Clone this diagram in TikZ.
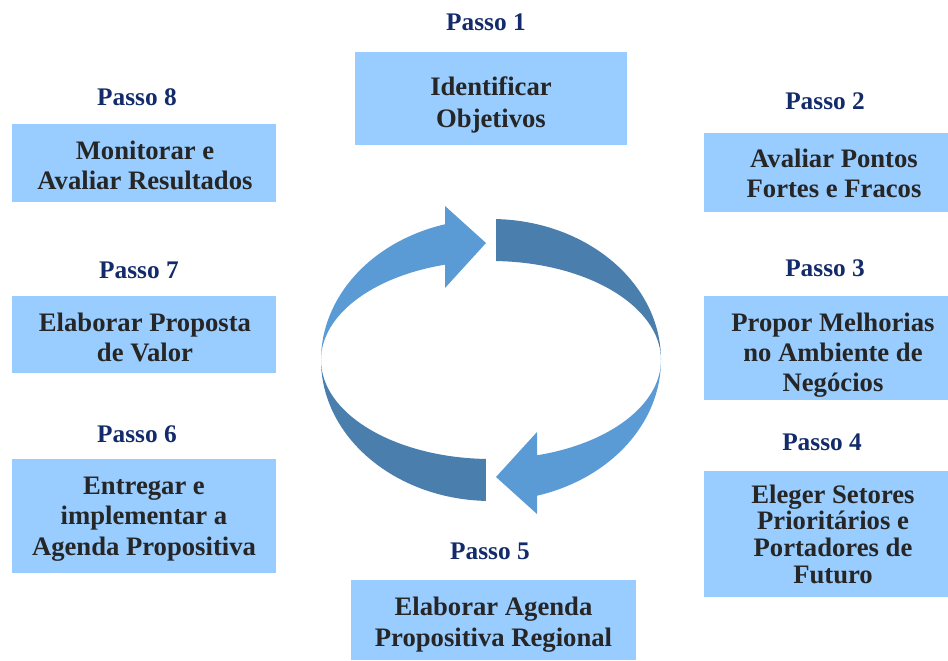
\documentclass[tikz,border=0pt]{standalone}
\usepackage{fontspec}
\setmainfont{Liberation Serif}
\usepackage{tikz}
\usetikzlibrary{positioning}
\definecolor{BoxBlue}{HTML}{99CCFF}
\definecolor{PassoNavy}{HTML}{132B6A}
\definecolor{TextGray}{HTML}{262626}
\definecolor{ArrLight}{HTML}{5B9BD5}
\definecolor{ArrDark}{HTML}{4A7EAC}

\begin{document}
\begin{tikzpicture}[x=.75pt,y=.75pt,
 box/.style 2 args={fill=BoxBlue,inner sep=0pt,minimum width=#1*.75pt,minimum height=#2*.75pt},
 txt/.style={text=TextGray,align=center,inner sep=0pt,font=\bfseries\fontsize{20}{#1}\selectfont},
 txt/.default=23,
 passo/.style={text=PassoNavy,inner sep=0pt,font=\bfseries\fontsize{19}{22}\selectfont}]
\useasboundingbox (0,0) rectangle (948,660);
% ciclo central
\foreach \r in {0,180}{
 \begin{scope}[shift={(491,300)},rotate=\r]
  \fill[ArrDark] (88.3:170 and 141) arc[start angle=88.3,end angle=0,x radius=170,y radius=141]
   arc[start angle=0,end angle=88.3,x radius=170,y radius=99] -- cycle;
  \fill[ArrLight] (-170,0) arc[start angle=180,end angle=105.7,x radius=170,y radius=141]
   -- (-46,154) -- (-5,117) -- (-46,72) -- (105.7:170 and 99)
   arc[start angle=105.7,end angle=180,x radius=170,y radius=99] -- cycle;
 \end{scope}}
% passos
\node[box={272}{93}] (obj) at (491,561.5) {};
\node[txt=24] (obj-t) at (491,555) {Identificar\\Objetivos};
\node[passo] (p1) at (486,638) {Passo 1};
\node[box={244}{79}] (aval) at (826,487.5) {};
\node[txt] (aval-t) at (834,486.5) {Avaliar Pontos\\Fortes e Fracos};
\node[passo] (p2) at (825,559) {Passo 2};
\node[box={244}{104}] (prop) at (826,312) {};
\node[txt=22.5] (prop-t) at (833,305) {Propor Melhorias\\no Ambiente de\\Negócios};
\node[passo] (p3) at (825,392) {Passo 3};
\node[box={244}{126}] (eleg) at (826,126) {};
\node[txt=20] (eleg-t) at (833,126) {Eleger Setores\\Prioritários e\\Portadores de\\Futuro};
\node[passo] (p4) at (822,218) {Passo 4};
\node[box={285}{80}] (agen) at (493.5,40) {};
\node[txt] (agen-t) at (493.5,35.5) {Elaborar Agenda\\Propositiva Regional};
\node[passo] (p5) at (490,109) {Passo 5};
\node[box={264}{114}] (entr) at (144,144) {};
\node[txt] (entr-t) at (144,141) {Entregar e\\implementar a\\Agenda Propositiva};
\node[passo] (p6) at (137,226) {Passo 6};
\node[box={264}{77}] (valor) at (144,325.5) {};
\node[txt=22.5] (valor-t) at (145,323) {Elaborar Proposta\\de Valor};
\node[passo] (p7) at (139,390) {Passo 7};
\node[box={264}{78}] (moni) at (144,497) {};
\node[txt=22.5] (moni-t) at (145,495) {Monitorar e\\Avaliar Resultados};
\node[passo] (p8) at (137,563) {Passo 8};
\end{tikzpicture}
\end{document}
